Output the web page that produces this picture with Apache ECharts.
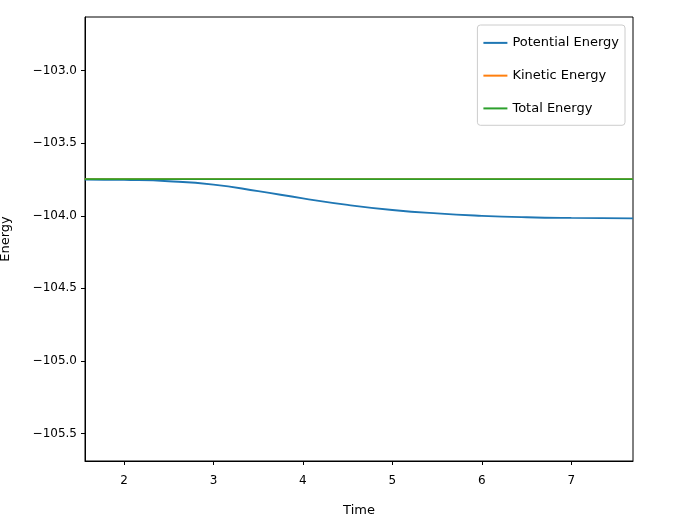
<!DOCTYPE html>
<html>
<head>
<script src="https://cdn.jsdelivr.net/npm/echarts@6/dist/echarts.min.js"></script>
</head>
<body style="margin:0">
<div id="chart" style="width:673px;height:514px;"></div>
<script>
var timeVals = [1.56, 2.0, 2.5, 3.0, 3.5, 4.0, 4.5, 5.0, 5.5, 6.0, 6.5, 7.0, 7.69];
var potential = [-103.750, -103.753, -103.762, -103.785, -103.830, -103.880, -103.925, -103.960, -103.984, -104.000, -104.010, -104.015, -104.018];
var kinetic = [-103.748, -103.748, -103.748, -103.748, -103.748, -103.748, -103.748, -103.748, -103.748, -103.748, -103.748, -103.748, -103.748];
var total = [-103.748, -103.748, -103.748, -103.748, -103.748, -103.748, -103.748, -103.748, -103.748, -103.748, -103.748, -103.748, -103.748];
var xTicks = [2, 3, 4, 5, 6, 7];
var yTicks = [-103.0, -103.5, -104.0, -104.5, -105.0, -105.5];

function pairs(v) {
    var out = [];
    for (var i = 0; i < timeVals.length; i++) out.push([timeVals[i], v[i]]);
    return out;
}
var font = 'DejaVu Sans';
var chart = echarts.init(document.getElementById('chart'));
chart.setOption({
    animation: false,
    textStyle: {fontFamily: font},
    grid: {left: 85, right: 40, top: 17, bottom: 53, containLabel: false, outerBoundsMode: 'none'},
    legend: {
        right: 48, top: 25, orient: 'vertical', itemGap: 7,
        itemWidth: 24, itemHeight: 12, icon: 'path://M0,5h24v2H0z',
        borderColor: '#ccc', borderWidth: 1, borderRadius: 3, padding: [5, 6, 4, 6],
        textStyle: {fontSize: 13, color: '#000'},
        data: ['Potential Energy', 'Kinetic Energy', 'Total Energy']
    },
    xAxis: {
        type: 'value', min: 1.564, max: 7.69,
        name: 'Time', nameLocation: 'middle', nameGap: 28,
        nameTextStyle: {fontSize: 13, color: '#000'},
        axisLine: {onZero: false, lineStyle: {color: '#000'}},
        axisTick: {show: true, customValues: xTicks, length: 4, inside: false, lineStyle: {color: '#000'}},
        axisLabel: {customValues: xTicks, fontSize: 12, color: '#000'},
        splitLine: {show: false}
    },
    yAxis: {
        type: 'value', min: -105.69, max: -102.63,
        name: 'Energy', nameLocation: 'middle', nameGap: 66,
        nameTextStyle: {fontSize: 13, color: '#000'},
        axisLine: {show: true, onZero: false, lineStyle: {color: '#000'}},
        axisTick: {show: true, customValues: yTicks, length: 4, lineStyle: {color: '#000'}},
        axisLabel: {customValues: yTicks, fontSize: 12, color: '#000',
            formatter: function (v) { return '\u2212' + Math.abs(v).toFixed(1); }},
        splitLine: {show: false}
    },
    series: [
        {name: 'Potential Energy', type: 'line', smooth: true, showSymbol: false, data: pairs(potential), itemStyle: {color: '#1f77b4'}, lineStyle: {width: 1.8}},
        {name: 'Kinetic Energy', type: 'line', showSymbol: false, data: pairs(kinetic), itemStyle: {color: '#ff7f0e'}, lineStyle: {width: 1.8}},
        {name: 'Total Energy', type: 'line', showSymbol: false, data: pairs(total), itemStyle: {color: '#2ca02c'}, lineStyle: {width: 1.8}}
    ]
});
// box around the plot like the original
chart.setOption({
    graphic: [{type: 'rect', shape: {x: 85, y: 17, width: 548, height: 444}, style: {fill: 'none', stroke: '#000', lineWidth: 1}, silent: true}]
});
</script>
</body>
</html>
